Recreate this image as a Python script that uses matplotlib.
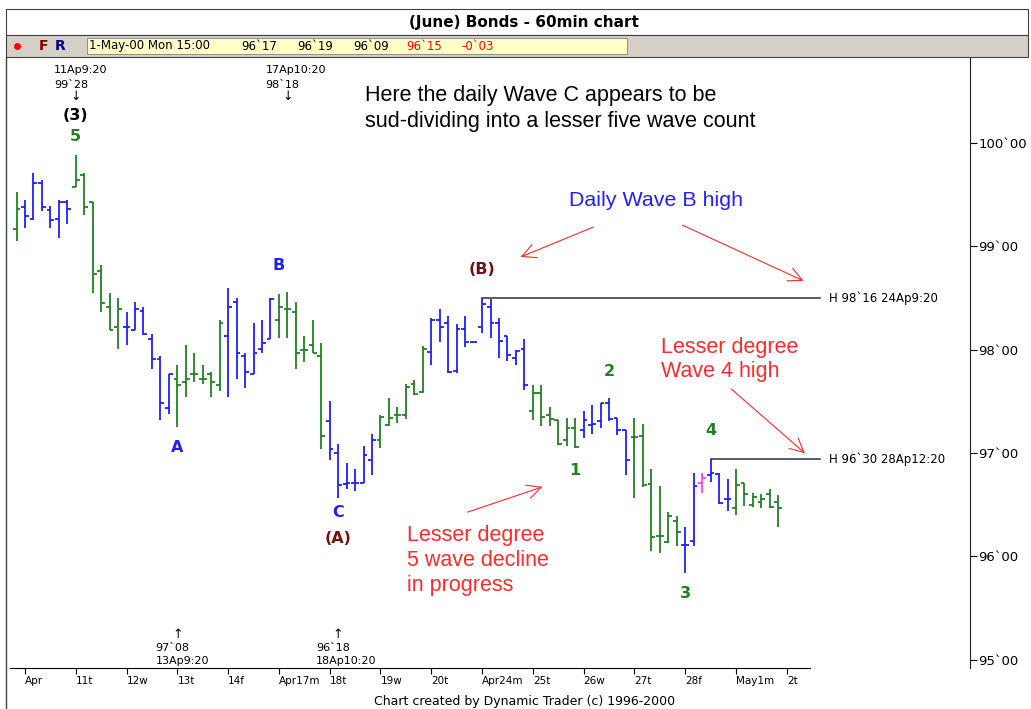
import matplotlib
matplotlib.use("Agg")
import matplotlib.pyplot as plt
from matplotlib.patches import Rectangle, FancyArrowPatch
from matplotlib.lines import Line2D
from matplotlib.transforms import blended_transform_factory

# 60min bars, last bar of Apr 7 then Apr 10 .. May 1 2000 (6 bars a day)
trading_days = [10, 11, 12, 13, 14, 17, 18, 19, 20, 24, 25, 26, 27, 28, 1]
bars_per_day = 6
day_labels = ['Apr', '11t', '12w', '13t', '14f', 'Apr17m', '18t', '19w', '20t',
              'Apr24m', '25t', '26w', '27t', '28f', 'May1m', '2t']

opens = [
    99.17, 99.38, 99.26, 99.61, 99.35, 99.26, 99.43,
    99.57, 99.69, 99.43, 98.76, 98.41, 98.22,
    98.22, 98.19, 98.37, 98.10, 97.91, 97.43,
    97.72, 97.69, 97.76, 97.72, 97.76, 97.66,
    98.13, 98.46, 97.94, 97.76, 98.01, 98.10,
    98.29, 98.39, 98.36, 98.00, 98.04, 97.94,
    97.31, 97.00, 96.70, 96.71, 96.71, 96.93,
    97.13, 97.27, 97.37, 97.37, 97.67, 97.59,
    97.98, 98.29, 98.26, 97.79, 98.20, 98.07,
    98.22, 98.41, 98.26, 98.13, 97.92, 98.01,
    97.41, 97.58, 97.37, 97.32, 97.13, 97.24,
    97.22, 97.27, 97.31, 97.48, 97.34, 97.22,
    97.15, 97.16, 96.70, 96.20, 96.14, 96.34,
    96.11, 96.15, 96.71, 96.79, 96.80, 96.55,
    96.47, 96.71, 96.50, 96.53, 96.60, 96.53,
]
highs = [
    99.52, 99.45, 99.71, 99.64, 99.39, 99.45, 99.45,
    99.88, 99.71, 99.43, 98.82, 98.55, 98.50,
    98.36, 98.46, 98.41, 98.15, 97.94, 97.76,
    97.85, 98.04, 97.97, 97.85, 97.78, 98.29,
    98.60, 98.50, 97.97, 98.26, 98.29, 98.50,
    98.54, 98.56, 98.46, 98.13, 98.29, 98.06,
    97.50, 97.09, 96.90, 96.84, 97.07, 97.18,
    97.37, 97.53, 97.44, 97.67, 97.71, 98.03,
    98.31, 98.39, 98.32, 98.25, 98.32, 98.07,
    98.50, 98.49, 98.31, 98.13, 98.00, 98.10,
    97.66, 97.66, 97.44, 97.32, 97.34, 97.34,
    97.41, 97.46, 97.48, 97.53, 97.34, 97.22,
    97.34, 97.28, 96.84, 96.68, 96.43, 96.39,
    96.28, 96.81, 96.81, 96.94, 96.81, 96.75,
    96.84, 96.71, 96.61, 96.60, 96.65, 96.59,
]
lows = [
    99.05, 99.18, 99.25, 99.34, 99.18, 99.08, 99.21,
    99.57, 99.30, 98.55, 98.36, 98.19, 98.01,
    98.04, 98.19, 98.14, 97.81, 97.32, 97.38,
    97.25, 97.54, 97.69, 97.67, 97.54, 97.60,
    97.54, 97.72, 97.63, 97.76, 97.97, 98.10,
    98.11, 98.11, 97.81, 97.88, 97.97, 97.04,
    96.93, 96.56, 96.65, 96.63, 96.71, 96.79,
    97.05, 97.26, 97.29, 97.33, 97.56, 97.58,
    97.85, 98.07, 97.77, 97.77, 98.02, 98.07,
    98.16, 98.11, 97.92, 97.89, 97.85, 97.61,
    97.32, 97.26, 97.26, 97.08, 97.07, 97.05,
    97.14, 97.18, 97.24, 97.31, 97.17, 96.79,
    96.56, 96.67, 96.05, 96.03, 96.13, 96.10,
    95.84, 96.10, 96.61, 96.72, 96.51, 96.44,
    96.40, 96.49, 96.48, 96.47, 96.47, 96.28,
]
closes = [
    99.36, 99.29, 99.61, 99.38, 99.25, 99.43, 99.36,
    99.64, 99.38, 98.73, 98.45, 98.19, 98.39,
    98.22, 98.39, 98.15, 97.91, 97.48, 97.76,
    97.66, 97.72, 97.76, 97.72, 97.69, 98.26,
    98.41, 97.97, 97.78, 97.97, 98.06, 98.49,
    98.41, 98.39, 97.97, 98.00, 97.97, 97.16,
    97.04, 96.69, 96.71, 96.71, 96.98, 97.13,
    97.35, 97.34, 97.37, 97.64, 97.57, 98.01,
    98.29, 98.22, 97.78, 98.20, 98.07, 98.07,
    98.44, 98.26, 98.08, 97.95, 97.99, 97.66,
    97.58, 97.35, 97.33, 97.09, 97.24, 97.06,
    97.32, 97.28, 97.48, 97.33, 97.22, 96.93,
    97.15, 96.69, 96.19, 96.20, 96.39, 96.24,
    96.11, 96.68, 96.76, 96.81, 96.52, 96.55,
    96.69, 96.60, 96.57, 96.55, 96.48, 96.47,
]

b_high_bar, b_high = 55, 98.5       # H 98`16 24Ap9:20
w4_high_bar, w4_high = 82, 96.9375  # H 96`30 28Ap12:20
marked_bar = 81

GREEN = '#228022'
BLUE = '#1f1fff'
MAROON = '#751010'
RED = '#ff2b2b'

W, H = 1031, 709
fig = plt.figure(figsize=(W / 100, H / 100), dpi=100)


def fx(px):
    return px / W


def fy(py):
    return 1 - py / H


# window chrome
fig.add_artist(Rectangle((fx(6), fy(35)), fx(1022), 26 / H, transform=fig.transFigure,
                         facecolor='white', edgecolor='#404040', lw=0.8))
fig.add_artist(Rectangle((fx(6), fy(57)), fx(1022), 22 / H, transform=fig.transFigure,
                         facecolor='#d4d0c8', edgecolor='#404040', lw=0.8))
fig.add_artist(Rectangle((fx(87), fy(54)), fx(540), 16 / H, transform=fig.transFigure,
                         facecolor='#ffffc8', edgecolor='#808080', lw=0.6))
fig.add_artist(Line2D([fx(6), fx(6)], [fy(57), 0], transform=fig.transFigure, color='#404040', lw=1))
fig.text(fx(524), fy(22), '(June) Bonds - 60min chart', ha='center', va='center', fontsize=11,
         fontweight='bold')
fig.add_artist(Line2D([fx(17)], [fy(46)], marker='o', ms=4, color='red', transform=fig.transFigure))
fig.text(fx(43), fy(46), 'F', color='#800000', fontsize=10, fontweight='bold', ha='center', va='center')
fig.text(fx(60), fy(46), 'R', color='#000080', fontsize=10, fontweight='bold', ha='center', va='center')
status = [('1-May-00 Mon 15:00', 89, 'black'), ('96`17', 241, 'black'), ('96`19', 297, 'black'),
          ('96`09', 353, 'black'), ('96`15', 406, 'red'), ('-0`03', 461, 'red')]
for s, px, c in status:
    fig.text(fx(px), fy(46), s, color=c, fontsize=8.5, ha='left', va='center')
fig.text(fx(525), fy(701), 'Chart created by Dynamic Trader (c) 1996-2000', ha='center', va='center', fontsize=9)

# price chart
ax = fig.add_axes([fx(10), fy(668), fx(960), 610 / H])
ax.set_xlim(-0.77, 112.65)
ax.set_ylim(94.92, 100.82)

day_of_bar = [7] + [d for d in trading_days for _ in range(bars_per_day)]
n = len(opens)
xs = list(range(n))
colors = [GREEN if d % 2 else BLUE for d in day_of_bar]
colors[marked_bar] = '#ff40ff'

lw = 1.3
ax.vlines(xs, lows, highs, colors=colors, lw=lw)
ax.hlines(opens, [x - 0.45 for x in xs], xs, colors=colors, lw=lw)
ax.hlines(closes, xs, [x + 0.45 for x in xs], colors=colors, lw=lw)

# horizontal high lines
line_end = 94.9
for bar, level, txt in [(b_high_bar, b_high, 'H 98`16 24Ap9:20'), (w4_high_bar, w4_high, 'H 96`30 28Ap12:20')]:
    ax.plot([bar, line_end], [level, level], color='#303030', lw=1.1)
    ax.annotate(txt, xy=(line_end, level), xytext=(6.5, 0), textcoords='offset points',
                ha='left', va='center', fontsize=8.5)

# wave labels: (text, bar, above high?, offset px, colour)
waves = [('(3)', 7, True, 40, 'black'), ('5', 7, True, 19, GREEN), ('A', 19, False, 20, BLUE),
         ('B', 31, True, 28, BLUE), ('C', 38, False, 14, BLUE), ('(A)', 38, False, 40, MAROON),
         ('(B)', 55, True, 28, MAROON), ('1', 66, False, 23, GREEN), ('2', 70, True, 27, GREEN),
         ('3', 79, False, 21, GREEN), ('4', 82, True, 29, GREEN)]
for txt, bar, above, off, c in waves:
    y = highs[bar] if above else lows[bar]
    ax.annotate(txt, xy=(bar, y), xytext=(0, (off if above else -off) * 0.72), textcoords='offset points',
                ha='center', va='center', fontsize=11.5, fontweight='bold', color=c)

# time/price markers
tb = blended_transform_factory(ax.transData, fig.transFigure)
top_marks = [(7, '11Ap9:20', '99`28'), (32, '17Ap10:20', '98`18')]
for bar, t, p in top_marks:
    ax.text(bar - 2.6, fy(70), t, transform=tb, fontsize=8, ha='left', va='center')
    ax.text(bar - 2.6, fy(85), p, transform=tb, fontsize=8, ha='left', va='center')
    ax.text(bar, fy(97), '\u2193', transform=tb, fontsize=9, ha='center', va='center')
bottom_marks = [(19, '13Ap9:20', '97`08'), (38, '18Ap10:20', '96`18')]
for bar, t, p in bottom_marks:
    ax.text(bar, fy(634), '\u2191', transform=tb, fontsize=9, ha='center', va='center')
    ax.text(bar - 2.6, fy(648), p, transform=tb, fontsize=8, ha='left', va='center')
    ax.text(bar - 2.6, fy(661), t, transform=tb, fontsize=8, ha='left', va='center')

# commentary
note_font = dict(family='Liberation Sans', va='center')
fig.text(fx(365), fy(96), 'Here the daily Wave C appears to be', fontsize=15.5, **note_font)
fig.text(fx(365), fy(121), 'sud-dividing into a lesser five wave count', fontsize=15.5, **note_font)
fig.text(fx(569), fy(200), 'Daily Wave B high', fontsize=15.4, color=BLUE, **note_font)
fig.text(fx(661), fy(347), 'Lesser degree', fontsize=15.5, color=RED, **note_font)
fig.text(fx(661), fy(371), 'Wave 4 high', fontsize=15.5, color=RED, **note_font)
for i, s in enumerate(['Lesser degree', '5 wave decline', 'in progress']):
    fig.text(fx(407), fy(535 + 25 * i), s, fontsize=15.5, color=RED, **note_font)

for (x0, y0), (x1, y1) in [((596, 226), (518, 258)), ((680, 224), (806, 282)),
                           ((729, 387), (807, 455)), ((465, 513), (545, 486))]:
    fig.add_artist(FancyArrowPatch((fx(x0), fy(y0)), (fx(x1), fy(y1)), transform=fig.transFigure,
                                   arrowstyle='->,head_length=0.5,head_width=0.25', mutation_scale=20,
                                   color=RED, lw=0.8))

# axes styling
for s in ['top', 'left']:
    ax.spines[s].set_visible(False)
ax.spines['bottom'].set_bounds(-0.77, 93.75)
ax.spines['right'].set_color('#202020')
ax.yaxis.tick_right()
yt = [95, 96, 97, 98, 99, 100]
ax.set_yticks(yt)
ax.set_yticklabels([f'{v}`00' for v in yt], fontsize=9.5)
ax.tick_params(axis='y', direction='out', length=5, pad=1, width=0.8)
ax.set_xticks([1 + bars_per_day * k for k in range(len(day_labels))])
ax.set_xticklabels(day_labels, fontsize=7.5, ha='left')
ax.tick_params(axis='x', direction='out', length=4, pad=2, width=0.8)
ax.patch.set_alpha(0)

fig.savefig('out.png', dpi=100)
